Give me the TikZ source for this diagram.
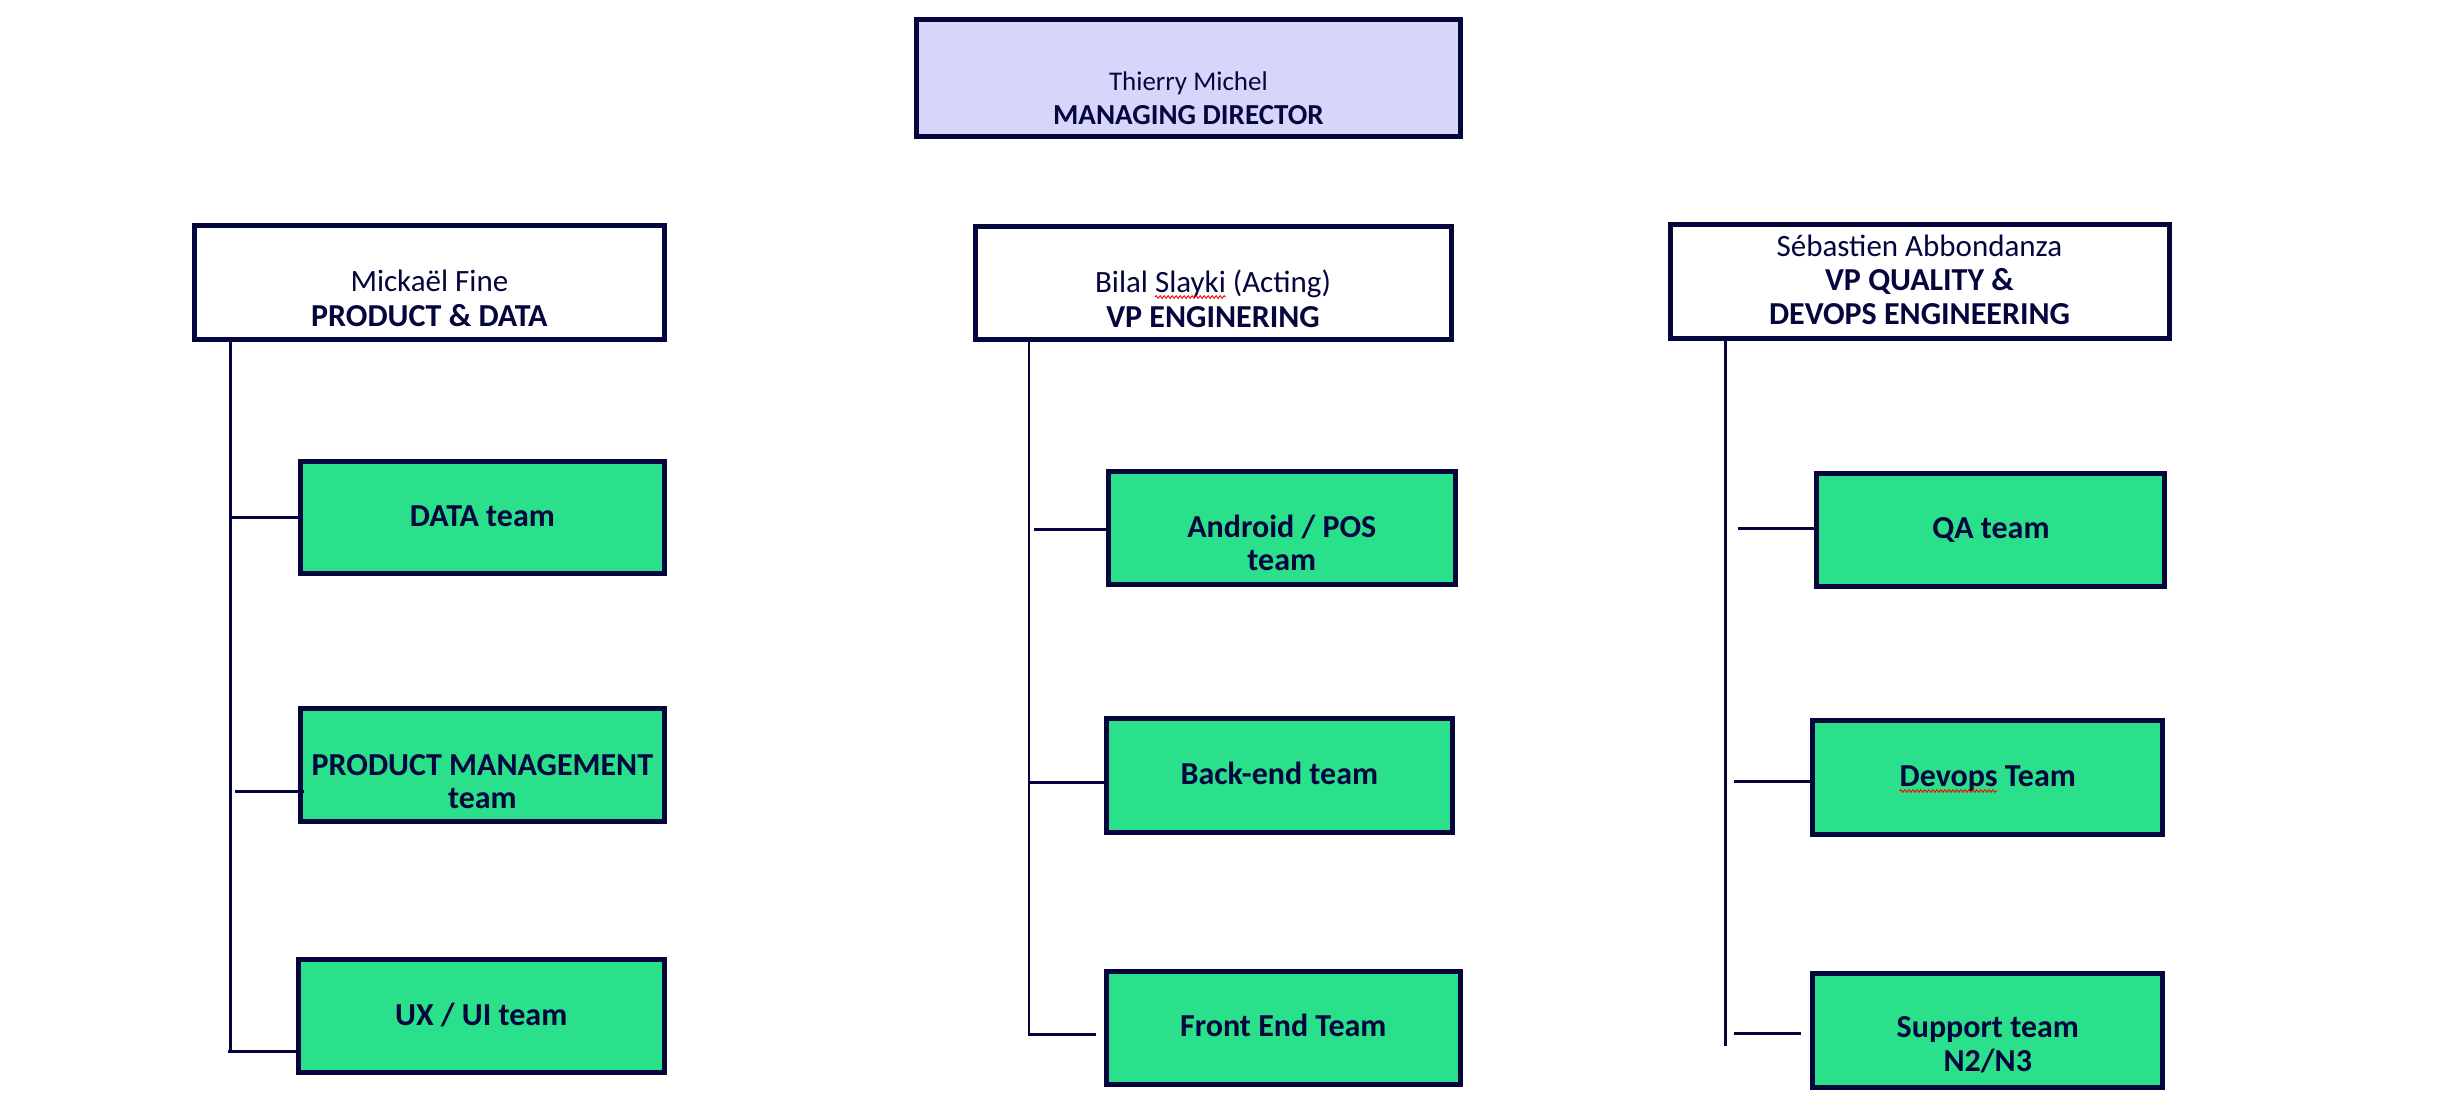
\documentclass[tikz,border=0pt]{standalone}
\usepackage{fontspec}
\setmainfont{Carlito}
\usetikzlibrary{calc,decorations.pathmorphing}
\definecolor{navy}{HTML}{06063F}
\definecolor{mint}{HTML}{2AE08A}
\definecolor{lav}{HTML}{D6D6FA}
\newcommand\fmdsize{\fontsize{27}{34}\selectfont}
\newcommand\fmdbsize{\fontsize{29}{34}\selectfont}
\newcommand\fbigsize{\fontsize{31}{34}\selectfont}
\newcommand\fbigbsize{\fontsize{32}{34}\selectfont}
\newlength\wBilal
\newlength\wSlayki
\newlength\wDevops
\begin{document}
\settowidth{\wBilal}{\fbigsize Bilal }
\settowidth{\wSlayki}{\fbigsize Slayki}
\settowidth{\wDevops}{\fbigbsize\bfseries Devops}
\begin{tikzpicture}[x=1pt,y=-1pt,
  box/.style={draw=navy, line width=5pt, inner sep=0pt, outer sep=0pt},
  mdbox/.style={box, fill=lav},
  headbox/.style={box, fill=white},
  teambox/.style={box, fill=mint},
  txt/.style={text=navy, inner sep=0pt, anchor=base, font=\fbigsize},
  btxt/.style={txt, font=\fbigbsize\bfseries},
  mdtxt/.style={txt, font=\fmdsize},
  mdbtxt/.style={txt, font=\fmdbsize\bfseries},
  trunk/.style={draw=navy, line width=2.8pt},
  stub/.style={draw=navy, line width=3pt},
  squig/.style={draw=red, line width=0.9pt, decorate,
    decoration={snake, amplitude=1.3pt, segment length=4pt}}]
\fill[white] (0,0) rectangle (2460,1104);
\useasboundingbox (0,0) rectangle (2460,1104);

% boxes
\node[mdbox, minimum width=544pt, minimum height=117pt] (md) at (1188.4,78) {};
\node[headbox, minimum width=470pt, minimum height=114pt] (pf) at (429.4,282.2) {};
\node[headbox, minimum width=476pt, minimum height=113pt] (bs) at (1213,283) {};
\node[headbox, minimum width=499pt, minimum height=114pt] (sa) at (1919.5,281) {};
\node[teambox, minimum width=364pt, minimum height=112pt] (data) at (482.4,517.7) {};
\node[teambox, minimum width=364pt, minimum height=113pt] (pm) at (482.4,765) {};
\node[teambox, minimum width=366pt, minimum height=113pt] (ux) at (481.2,1015.8) {};
\node[teambox, minimum width=347pt, minimum height=113pt] (and) at (1281.8,528) {};
\node[teambox, minimum width=346pt, minimum height=114pt] (back) at (1279.3,775.5) {};
\node[teambox, minimum width=354pt, minimum height=113pt] (front) at (1283.3,1028) {};
\node[teambox, minimum width=348pt, minimum height=113pt] (qa) at (1990.9,530) {};
\node[teambox, minimum width=350pt, minimum height=114pt] (dev) at (1987.8,777) {};
\node[teambox, minimum width=350pt, minimum height=114pt] (sup) at (1987.8,1030.3) {};

% texts
\node[mdtxt] (mdt1) at ($(md.center)+(0,12)$) {Thierry Michel};
\node[mdbtxt] (mdt2) at ($(md.center)+(0,46)$) {MANAGING DIRECTOR};
\node[txt] (pft1) at ($(pf.center)+(0,9)$) {Mickaël Fine};
\node[btxt] (pft2) at ($(pf.center)+(0,44)$) {PRODUCT \& DATA};
\node[txt] (bst1) at ($(bs.center)+(0,9)$) {Bilal Slayki (Acting)};
\node[btxt] (bst2) at ($(bs.center)+(0,44)$) {VP ENGINERING};
\node[txt] (sat1) at ($(sa.center)+(0,-25)$) {Sébastien Abbondanza};
\node[btxt] (sat2) at ($(sa.center)+(0,9.5)$) {VP QUALITY \&};
\node[btxt] (sat3) at ($(sa.center)+(0,43.5)$) {DEVOPS ENGINEERING};
\node[btxt] (datat) at ($(data.center)+(0,9)$) {DATA team};
\node[btxt] (pmt1) at ($(pm.center)+(0,10)$) {PRODUCT MANAGEMENT};
\node[btxt] (pmt2) at ($(pm.center)+(0,43)$) {team};
\node[btxt] (uxt) at ($(ux.center)+(0,9.5)$) {UX / UI team};
\node[btxt] (andt1) at ($(and.center)+(0,9)$) {Android / POS};
\node[btxt] (andt2) at ($(and.center)+(0,42)$) {team};
\node[btxt] (backt) at ($(back.center)+(0,9)$) {Back-end team};
\node[btxt] (frontt) at ($(front.center)+(0,8)$) {Front End Team};
\node[btxt] (qat) at ($(qa.center)+(0,8.6)$) {QA team};
\node[btxt] (devt) at ($(dev.center)+(0,9)$) {Devops Team};
\node[btxt] (supt1) at ($(sup.center)+(0,7.5)$) {Support team};
\node[btxt] (supt2) at ($(sup.center)+(0,41)$) {N2/N3};

% spell-check marks
\draw[squig] ($(bst1.base west)+(\wBilal,-5pt)$) -- ++(\wSlayki,0pt);
\draw[squig] ($(devt.base west)+(0pt,-5pt)$) -- ++(\wDevops,0pt);

% trunks
\coordinate (lt) at (230.6,1050);
\coordinate (mt) at (1029,1036);
\coordinate (rt) at (1725.7,1046);
\draw[trunk] (pf.south -| lt) -- (lt);
\draw[trunk] (bs.south -| mt) -- (mt);
\draw[trunk] (sa.south -| rt) -- (rt);

% stubs
\coordinate (s1) at (230.6,517.5);
\coordinate (s2) at (235,791.4);
\coordinate (s3) at (227.5,1051.9);
\coordinate (s4) at (1034,529);
\coordinate (s5) at (1029,782.6);
\coordinate (s6) at (1029,1034.3);
\coordinate (s7) at (1738,528.8);
\coordinate (s8) at (1734,781.9);
\coordinate (s9) at (1734,1033.6);
\draw[stub] (s1) -- (data.west |- s1);
\draw[stub] (s2) -- ($(pm.west |- s2)+(4,0)$);
\draw[stub] (s3) -- (ux.west |- s3);
\draw[stub] (s4) -- (and.west |- s4);
\draw[stub] (s5) -- (back.west |- s5);
\draw[stub] (s6) -- ($(front.west |- s6)+(-10,0)$);
\draw[stub] (s7) -- (qa.west |- s7);
\draw[stub] (s8) -- (dev.west |- s8);
\draw[stub] (s9) -- ($(sup.west |- s9)+(-12,0)$);
\end{tikzpicture}
\end{document}
